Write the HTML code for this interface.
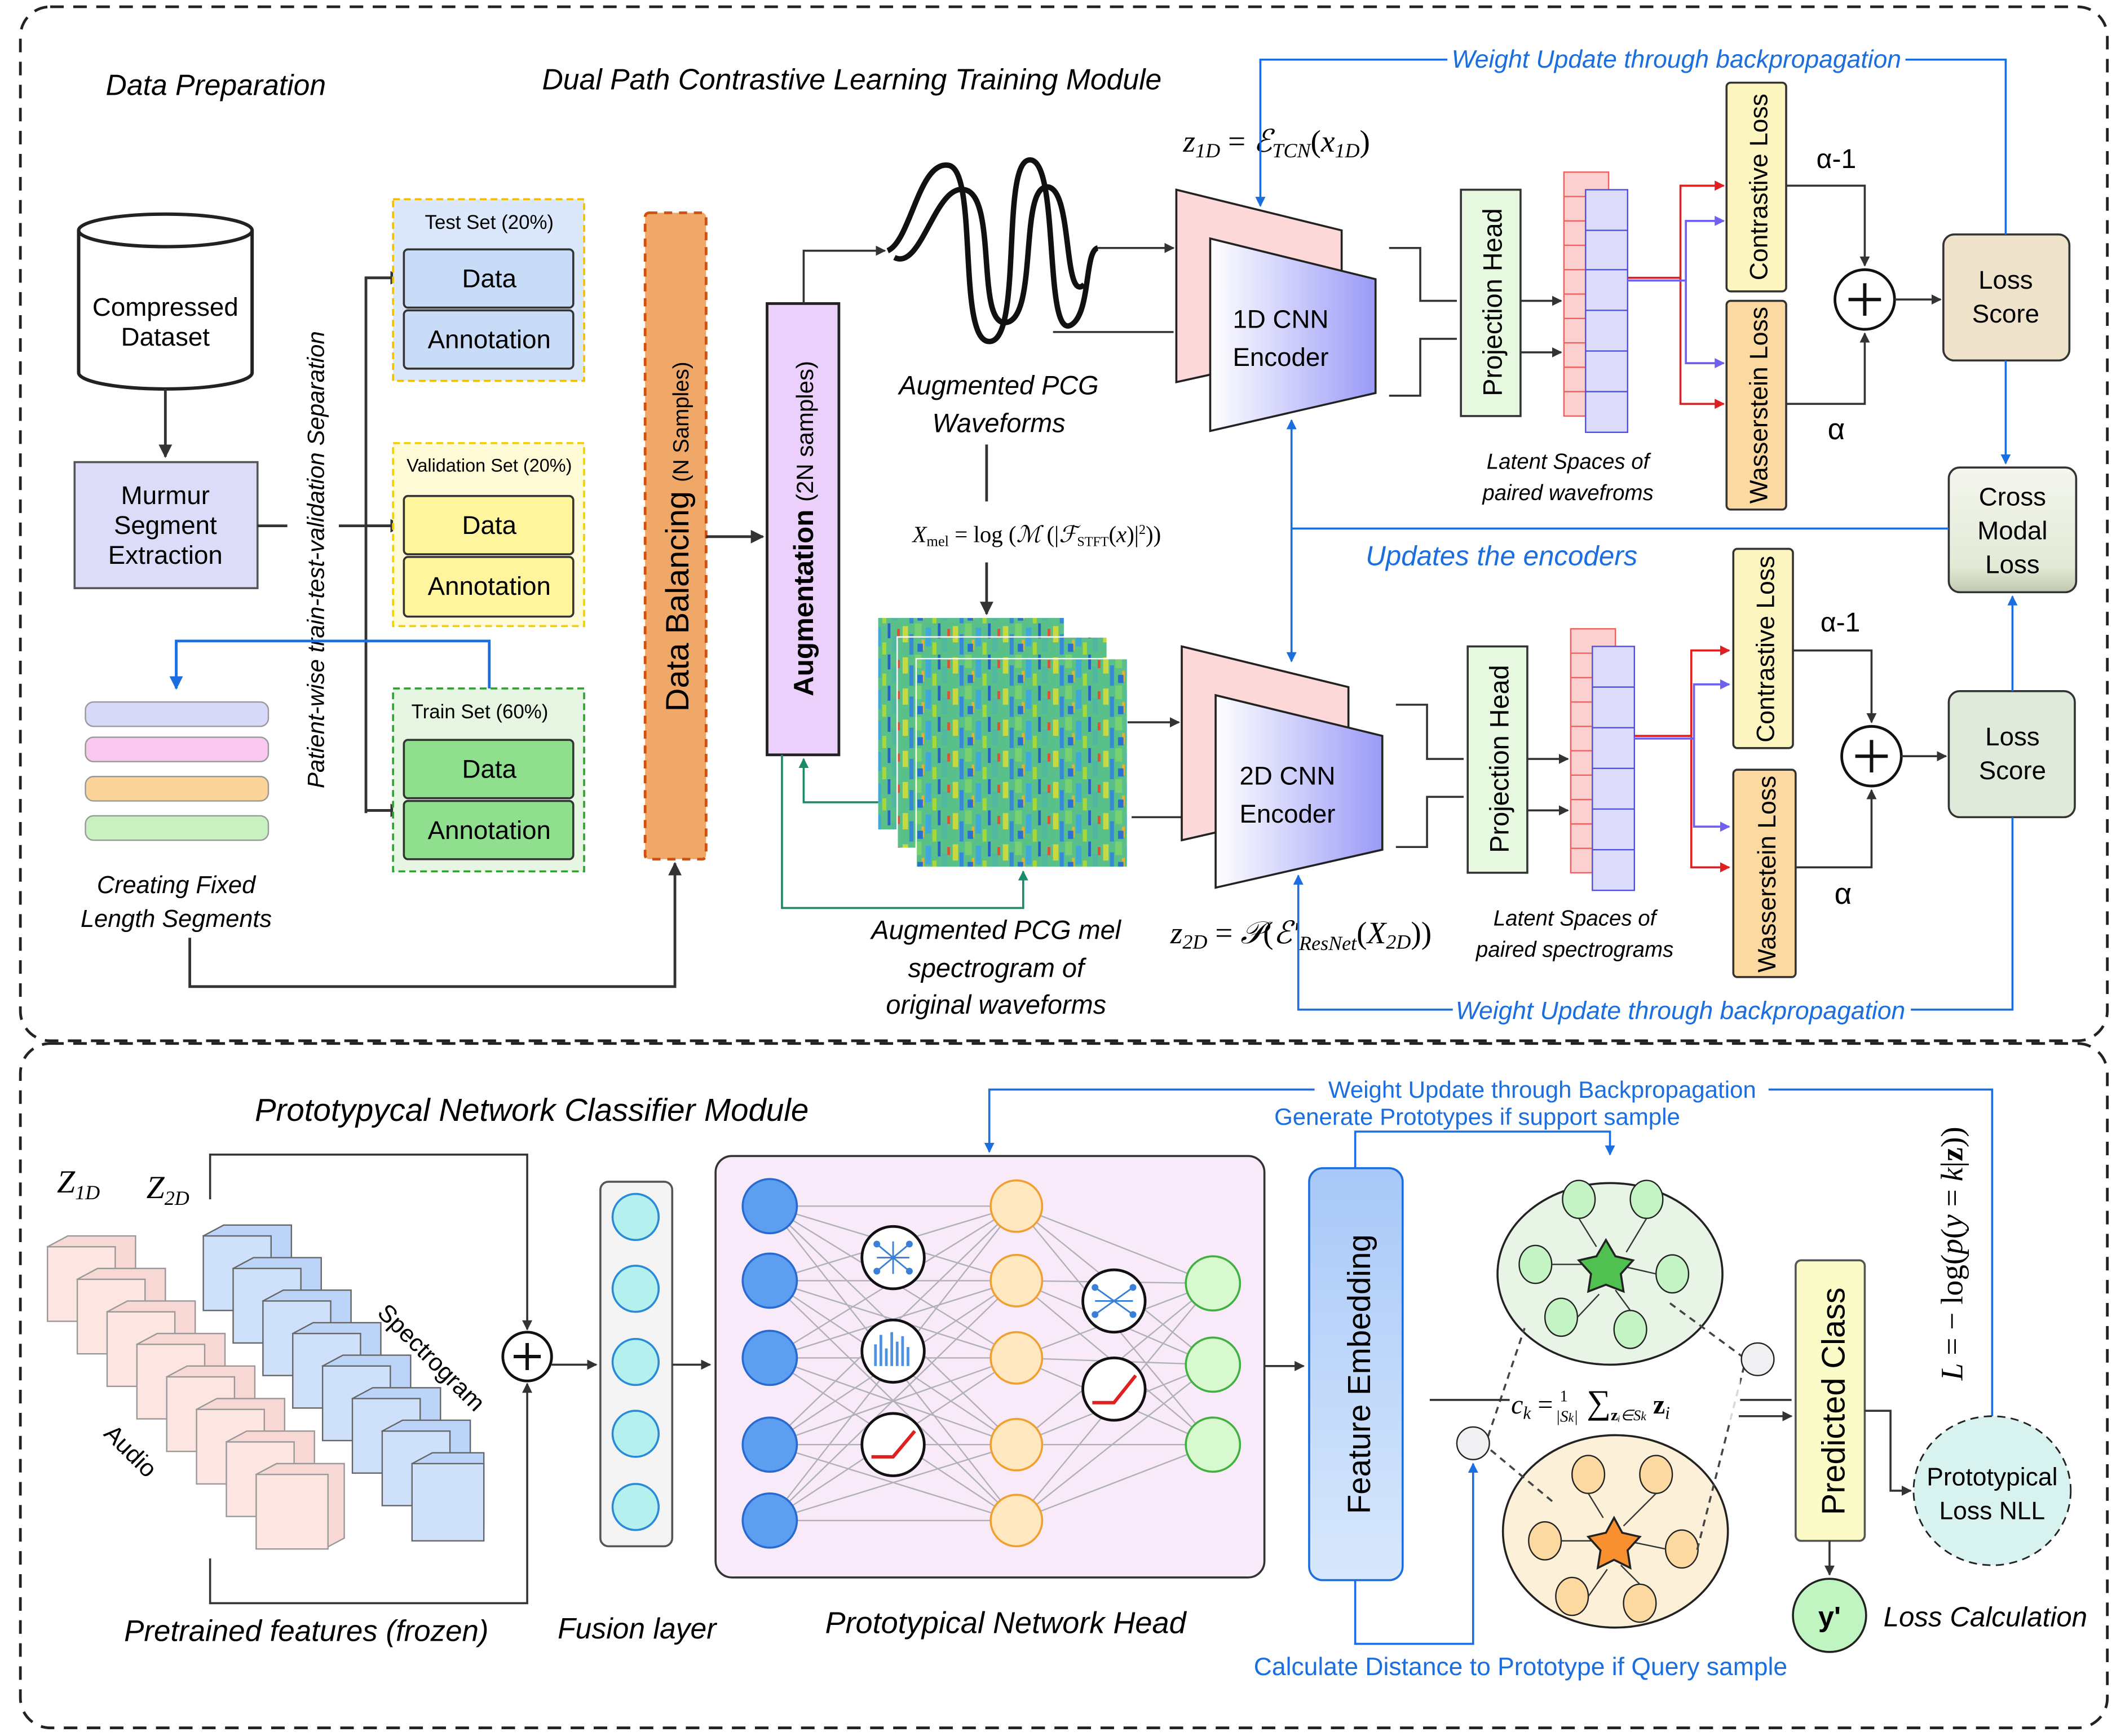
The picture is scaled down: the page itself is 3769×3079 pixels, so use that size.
<!DOCTYPE html>
<html><head><meta charset="utf-8"><style>
html,body{margin:0;padding:0;background:#fff}
svg{display:block}
text{font-family:"Liberation Sans",sans-serif}
.it{font-style:italic}
.sf{font-family:"Liberation Serif",serif;font-style:italic}
.bl{fill:#1a6ee0}
</style></head><body>
<svg width="3769" height="3079" viewBox="0 0 1568 1281" xmlns="http://www.w3.org/2000/svg">
<defs>
<marker id="a" viewBox="0 0 10 10" refX="9" refY="5" markerWidth="5" markerHeight="5" orient="auto"><path d="M0,0L10,5L0,10z" fill="#333"/></marker>
<marker id="ab" viewBox="0 0 10 10" refX="9" refY="5" markerWidth="5" markerHeight="5" orient="auto"><path d="M0,0L10,5L0,10z" fill="#1a6ee0"/></marker>
<marker id="ag" viewBox="0 0 10 10" refX="9" refY="5" markerWidth="5" markerHeight="5" orient="auto"><path d="M0,0L10,5L0,10z" fill="#1a8a6a"/></marker>
<marker id="ar" viewBox="0 0 10 10" refX="9" refY="5" markerWidth="5" markerHeight="5" orient="auto"><path d="M0,0L10,5L0,10z" fill="#e02020"/></marker>
<marker id="ap" viewBox="0 0 10 10" refX="9" refY="5" markerWidth="5" markerHeight="5" orient="auto"><path d="M0,0L10,5L0,10z" fill="#7060f0"/></marker>
<linearGradient id="enc" x1="0" x2="1"><stop offset="0" stop-color="#fff"/><stop offset="1" stop-color="#9a9af8"/></linearGradient>
<linearGradient id="fe" x1="0" y1="0" x2="0" y2="1"><stop offset="0" stop-color="#a8c8f8"/><stop offset="1" stop-color="#d8e8fc"/></linearGradient>
<linearGradient id="cm" x1="0" y1="0" x2="0" y2="1"><stop offset="0" stop-color="#f4f6ee"/><stop offset="0.8" stop-color="#e2ead6"/><stop offset="1" stop-color="#c0c8b0"/></linearGradient>
<pattern id="sp" width="37" height="23" patternUnits="userSpaceOnUse">
<rect width="37" height="23" fill="#58c088"/>
<rect x="0" y="2" width="4" height="12" fill="#c8d840"/><rect x="5" y="8" width="3" height="15" fill="#3888d8"/>
<rect x="9" y="0" width="5" height="10" fill="#78d070"/><rect x="14" y="12" width="2" height="8" fill="#e8b030"/>
<rect x="17" y="3" width="4" height="14" fill="#40a8d8"/><rect x="22" y="14" width="3" height="9" fill="#a8d838"/>
<rect x="26" y="0" width="2" height="11" fill="#2860c8"/><rect x="29" y="9" width="4" height="12" fill="#50b8a0"/>
<rect x="33" y="4" width="2" height="6" fill="#e05030"/><rect x="11" y="15" width="4" height="6" fill="#2a70d0"/>
</pattern>
</defs>

<rect x="15" y="5" width="1540" height="763" rx="22" fill="none" stroke="#222" stroke-width="2" stroke-dasharray="10,7"/>
<rect x="15" y="770" width="1540" height="505" rx="22" fill="none" stroke="#222" stroke-width="2" stroke-dasharray="10,7"/>

<text x="78" y="70" font-size="21.5" class="it">Data Preparation</text>
<text x="400" y="66" font-size="21.5" class="it">Dual Path Contrastive Learning Training Module</text>

<path d="M58,170 L58,275 A64,12 0 0 0 186,275 L186,170" fill="#fff" stroke="#222" stroke-width="2.5"/>
<ellipse cx="122" cy="170" rx="64" ry="12" fill="#fff" stroke="#222" stroke-width="2.5"/>
<text x="122" y="233" font-size="19" text-anchor="middle">Compressed</text>
<text x="122" y="255" font-size="19" text-anchor="middle">Dataset</text>
<line x1="122" y1="287" x2="122" y2="337" stroke="#333" stroke-width="2" marker-end="url(#a)"/>
<rect x="55" y="341" width="135" height="93" fill="#dcdcf8" stroke="#555" stroke-width="1.5"/>
<text x="122" y="372" font-size="19" text-anchor="middle">Murmur</text>
<text x="122" y="394" font-size="19" text-anchor="middle">Segment</text>
<text x="122" y="416" font-size="19" text-anchor="middle">Extraction</text>
<line x1="190" y1="388" x2="212" y2="388" stroke="#333" stroke-width="2"/>
<text transform="translate(239,413) rotate(-90)" font-size="17.5" class="it" text-anchor="middle">Patient-wise train-test-validation Separation</text>
<path d="M250,388 L296,388 M270,600 L270,205 L296,205 M270,598 L296,598" fill="none" stroke="#333" stroke-width="2"/>
<line x1="270" y1="205" x2="297" y2="205" stroke="#333" stroke-width="2" marker-end="url(#a)"/>
<line x1="270" y1="388" x2="297" y2="388" stroke="#333" stroke-width="2" marker-end="url(#a)"/>
<line x1="270" y1="598" x2="297" y2="598" stroke="#333" stroke-width="2" marker-end="url(#a)"/>

<rect x="290" y="147" width="141" height="134" fill="#dbe8fb" stroke="#f0c000" stroke-width="1.5" stroke-dasharray="5,3"/>
<text x="361" y="169" font-size="14.5" text-anchor="middle">Test Set (20%)</text>
<rect x="298" y="184" width="125" height="43" rx="3" fill="#c8dcf8" stroke="#333" stroke-width="1.5"/>
<text x="361" y="212" font-size="19" text-anchor="middle">Data</text>
<rect x="298" y="229" width="125" height="43" rx="3" fill="#c8dcf8" stroke="#333" stroke-width="1.5"/>
<text x="361" y="257" font-size="19" text-anchor="middle">Annotation</text>

<rect x="290" y="327" width="141" height="135" fill="#fffbd6" stroke="#f0d000" stroke-width="1.5" stroke-dasharray="5,3"/>
<text x="361" y="348" font-size="13.5" text-anchor="middle">Validation Set (20%)</text>
<rect x="298" y="366" width="125" height="43" rx="3" fill="#fff59d" stroke="#333" stroke-width="1.5"/>
<text x="361" y="394" font-size="19" text-anchor="middle">Data</text>
<rect x="298" y="411" width="125" height="44" rx="3" fill="#fff59d" stroke="#333" stroke-width="1.5"/>
<text x="361" y="439" font-size="19" text-anchor="middle">Annotation</text>

<rect x="290" y="508" width="141" height="135" fill="#e6f6e3" stroke="#30a030" stroke-width="1.5" stroke-dasharray="5,3"/>
<text x="354" y="530" font-size="14.5" text-anchor="middle">Train Set (60%)</text>
<rect x="298" y="546" width="125" height="43" rx="3" fill="#8fdf8f" stroke="#333" stroke-width="1.5"/>
<text x="361" y="574" font-size="19" text-anchor="middle">Data</text>
<rect x="298" y="591" width="125" height="43" rx="3" fill="#8fdf8f" stroke="#333" stroke-width="1.5"/>
<text x="361" y="619" font-size="19" text-anchor="middle">Annotation</text>

<path d="M361,508 L361,473 L130,473 L130,508" fill="none" stroke="#1a6ee0" stroke-width="2" marker-end="url(#ab)"/>
<rect x="63" y="518" width="135" height="18" rx="6" fill="#d8d8f8" stroke="#999"/>
<rect x="63" y="544" width="135" height="18" rx="6" fill="#f8c8f0" stroke="#999"/>
<rect x="63" y="573" width="135" height="18" rx="6" fill="#fbd49a" stroke="#999"/>
<rect x="63" y="602" width="135" height="18" rx="6" fill="#c8f0c0" stroke="#999"/>
<text x="130" y="659" font-size="18" class="it" text-anchor="middle">Creating Fixed</text>
<text x="130" y="684" font-size="18" class="it" text-anchor="middle">Length Segments</text>
<path d="M140,692 L140,728 L498,728 L498,637" fill="none" stroke="#333" stroke-width="2" marker-end="url(#a)"/>

<rect x="476" y="157" width="45" height="477" rx="3" fill="#f0a868" stroke="#d05010" stroke-width="2" stroke-dasharray="6,5"/>
<text transform="translate(508,396) rotate(-90)" font-size="24" text-anchor="middle">Data Balancing <tspan font-size="16">(N Samples)</tspan></text>
<line x1="521" y1="396" x2="563" y2="396" stroke="#333" stroke-width="2" marker-end="url(#a)"/>
<rect x="566" y="224" width="53" height="333" fill="#ead0fb" stroke="#222" stroke-width="2"/>
<text transform="translate(600,390) rotate(-90)" font-size="20.5" font-weight="bold" text-anchor="middle">Augmentation <tspan font-weight="normal" font-size="17.5">(2N samples)</tspan></text>
<path d="M593,224 L593,185 L653,185" fill="none" stroke="#333" stroke-width="1.5" marker-end="url(#a)"/>

<path d="M655,185 C672,178 678,118 700,122 C722,126 706,252 730,252 C755,252 738,118 760,118 C782,118 770,250 790,240 C805,232 800,185 810,183" fill="none" stroke="#111" stroke-width="4"/>
<path d="M660,190 C680,200 690,135 712,140 C736,145 720,240 742,238 C766,236 752,140 772,138 C792,136 784,225 800,210" fill="none" stroke="#111" stroke-width="4"/>
<line x1="810" y1="183" x2="866" y2="183" stroke="#333" stroke-width="1.5" marker-end="url(#a)"/>
<line x1="777" y1="245" x2="866" y2="245" stroke="#333" stroke-width="1.5"/>
<text x="737" y="291" font-size="19.5" class="it" text-anchor="middle">Augmented PCG</text>
<text x="737" y="319" font-size="19.5" class="it" text-anchor="middle">Waveforms</text>
<line x1="728" y1="328" x2="728" y2="370" stroke="#333" stroke-width="2"/>
<text x="765" y="400" font-size="17" class="sf" text-anchor="middle">X<tspan font-size="11" font-style="normal" dy="3">mel</tspan><tspan dy="-3" font-style="normal"> = log (</tspan>ℳ<tspan font-style="normal"> (|</tspan>ℱ<tspan font-size="10" font-style="normal" dy="3">STFT</tspan><tspan dy="-3" font-style="normal">(</tspan>x<tspan font-style="normal">)|</tspan><tspan font-size="10" dy="-6" font-style="normal">2</tspan><tspan dy="6" font-style="normal">))</tspan></text>
<line x1="728" y1="415" x2="728" y2="453" stroke="#333" stroke-width="2" marker-end="url(#a)"/>

<rect x="648" y="456" width="137" height="156" fill="url(#sp)"/>
<rect x="662" y="470" width="155" height="156" fill="url(#sp)" stroke="#fff"/>
<rect x="676" y="486" width="156" height="154" fill="url(#sp)" stroke="#fff"/>
<path d="M648,592 L593,592 L593,560" fill="none" stroke="#1a8a6a" stroke-width="1.5" marker-end="url(#ag)"/>
<path d="M577,557 L577,670 L755,670 L755,643" fill="none" stroke="#1a8a6a" stroke-width="1.5" marker-end="url(#ag)"/>
<line x1="832" y1="533" x2="870" y2="533" stroke="#333" stroke-width="1.5" marker-end="url(#a)"/>
<line x1="835" y1="603" x2="895" y2="603" stroke="#333" stroke-width="1.5"/>
<text x="735" y="693" font-size="19.5" class="it" text-anchor="middle">Augmented PCG mel</text>
<text x="735" y="721" font-size="19.5" class="it" text-anchor="middle">spectrogram of</text>
<text x="735" y="748" font-size="19.5" class="it" text-anchor="middle">original waveforms</text>

<polygon points="868,140 990,170 990,255 868,282" fill="#fdd8d8" stroke="#222" stroke-width="1.5"/>
<polygon points="893,176 1015,206 1015,290 893,318" fill="url(#enc)" stroke="#222" stroke-width="1.5"/>
<text x="945" y="242" font-size="19" text-anchor="middle">1D CNN</text>
<text x="945" y="270" font-size="19" text-anchor="middle">Encoder</text>
<polygon points="872,477 995,507 995,592 872,620" fill="#fdd8d8" stroke="#222" stroke-width="1.5"/>
<polygon points="897,513 1020,543 1020,627 897,655" fill="url(#enc)" stroke="#222" stroke-width="1.5"/>
<text x="950" y="579" font-size="19" text-anchor="middle">2D CNN</text>
<text x="950" y="607" font-size="19" text-anchor="middle">Encoder</text>
<text x="942" y="112" font-size="23" class="sf" text-anchor="middle">z<tspan font-size="15" dy="4">1D</tspan><tspan dy="-4" font-style="normal"> = </tspan>ℰ<tspan font-size="15" dy="4">TCN</tspan><tspan dy="-4" font-style="normal">(</tspan>x<tspan font-size="15" dy="4">1D</tspan><tspan dy="-4" font-style="normal">)</tspan></text>
<text x="960" y="696" font-size="23" class="sf" text-anchor="middle">z<tspan font-size="15" dy="4">2D</tspan><tspan dy="-4" font-style="normal"> = </tspan>𝒫<tspan font-style="normal">(</tspan>ℰ′<tspan font-size="15" dy="5">ResNet</tspan><tspan dy="-5" font-style="normal">(</tspan>X<tspan font-size="15" dy="4">2D</tspan><tspan dy="-4" font-style="normal">))</tspan></text>

<path d="M1025,183 L1048,183 L1048,222 L1075,222 M1025,292 L1048,292 L1048,250 L1075,250" fill="none" stroke="#333" stroke-width="1.5"/>
<rect x="1078" y="140" width="44" height="167" fill="#e6f8e0" stroke="#333" stroke-width="1.5"/>
<text transform="translate(1108,223) rotate(-90)" font-size="19.5" text-anchor="middle">Projection Head</text>
<line x1="1122" y1="222" x2="1152" y2="222" stroke="#333" stroke-width="1.5" marker-end="url(#a)"/>
<line x1="1122" y1="260" x2="1152" y2="260" stroke="#333" stroke-width="1.5" marker-end="url(#a)"/>
<g stroke="#f06060" stroke-width="1">
<rect x="1154" y="127" width="33" height="180" fill="#fdd0d0"/>
<path d="M1154,145h33M1154,163h33M1154,181h33M1154,199h33M1154,217h33M1154,235h33M1154,253h33M1154,271h33M1154,289h33"/>
</g>
<g stroke="#5050e0" stroke-width="1">
<rect x="1170" y="140" width="31" height="179" fill="#dcdcfa"/>
<path d="M1170,170h31M1170,199h31M1170,229h31M1170,259h31M1170,289h31"/>
</g>
<path d="M1201,205 L1240,205 L1240,137 L1272,137 M1240,205 L1240,298 L1272,298" fill="none" stroke="#e02020" stroke-width="1.5"/>
<line x1="1240" y1="137" x2="1272" y2="137" stroke="#e02020" stroke-width="1.5" marker-end="url(#ar)"/>
<line x1="1240" y1="298" x2="1272" y2="298" stroke="#e02020" stroke-width="1.5" marker-end="url(#ar)"/>
<path d="M1201,207 L1244,207 L1244,163 L1272,163 M1244,207 L1244,268 L1272,268" fill="none" stroke="#7060f0" stroke-width="1.5"/>
<line x1="1244" y1="163" x2="1272" y2="163" stroke="#7060f0" stroke-width="1.5" marker-end="url(#ap)"/>
<line x1="1244" y1="268" x2="1272" y2="268" stroke="#7060f0" stroke-width="1.5" marker-end="url(#ap)"/>
<rect x="1274" y="61" width="44" height="154" rx="3" fill="#fdf5c0" stroke="#333" stroke-width="1.5"/>
<text transform="translate(1304,138) rotate(-90)" font-size="18.5" text-anchor="middle">Contrastive Loss</text>
<rect x="1274" y="222" width="44" height="154" rx="3" fill="#fcd9a0" stroke="#333" stroke-width="1.5"/>
<text transform="translate(1304,299) rotate(-90)" font-size="18.5" text-anchor="middle">Wasserstein Loss</text>
<text x="1355" y="124" font-size="20" text-anchor="middle">α-1</text>
<text x="1355" y="324" font-size="22" text-anchor="middle">α</text>
<path d="M1318,137 L1376,137 L1376,196" fill="none" stroke="#333" stroke-width="1.5" marker-end="url(#a)"/>
<path d="M1318,298 L1376,298 L1376,246" fill="none" stroke="#333" stroke-width="1.5" marker-end="url(#a)"/>
<circle cx="1376" cy="221" r="22" fill="#fff" stroke="#111" stroke-width="2"/>
<path d="M1364,221h24M1376,209v24" stroke="#111" stroke-width="2.5"/>
<line x1="1398" y1="221" x2="1432" y2="221" stroke="#333" stroke-width="1.5" marker-end="url(#a)"/>
<rect x="1434" y="173" width="93" height="93" rx="8" fill="#efe3cc" stroke="#333" stroke-width="1.5"/>
<text x="1480" y="213" font-size="19" text-anchor="middle">Loss</text>
<text x="1480" y="238" font-size="19" text-anchor="middle">Score</text>
<line x1="1480" y1="266" x2="1480" y2="342" stroke="#1a6ee0" stroke-width="1.5" marker-end="url(#ab)"/>
<rect x="1438" y="345" width="94" height="92" rx="8" fill="url(#cm)" stroke="#333" stroke-width="1.5"/>
<text x="1485" y="373" font-size="19" text-anchor="middle">Cross</text>
<text x="1485" y="398" font-size="19" text-anchor="middle">Modal</text>
<text x="1485" y="423" font-size="19" text-anchor="middle">Loss</text>
<path d="M1480,173 L1480,44 L930,44 L930,152" fill="none" stroke="#1a6ee0" stroke-width="1.5" marker-end="url(#ab)"/>
<rect x="1068" y="35" width="338" height="18" fill="#fff"/>
<text x="1237" y="50" font-size="18.5" class="it bl" text-anchor="middle">Weight Update through backpropagation</text>
<path d="M1438,390 L953,390 L953,310" fill="none" stroke="#1a6ee0" stroke-width="1.5" marker-end="url(#ab)"/>
<line x1="953" y1="390" x2="953" y2="488" stroke="#1a6ee0" stroke-width="1.5" marker-end="url(#ab)"/>
<text x="1108" y="417" font-size="20.5" class="it bl" text-anchor="middle">Updates the encoders</text>
<text x="1157" y="346" font-size="16" class="it" text-anchor="middle">Latent Spaces of</text>
<text x="1157" y="369" font-size="16" class="it" text-anchor="middle">paired wavefroms</text>

<path d="M1030,520 L1053,520 L1053,560 L1080,560 M1030,625 L1053,625 L1053,588 L1080,588" fill="none" stroke="#333" stroke-width="1.5"/>
<rect x="1083" y="477" width="44" height="167" fill="#e6f8e0" stroke="#333" stroke-width="1.5"/>
<text transform="translate(1113,560) rotate(-90)" font-size="19.5" text-anchor="middle">Projection Head</text>
<line x1="1127" y1="560" x2="1157" y2="560" stroke="#333" stroke-width="1.5" marker-end="url(#a)"/>
<line x1="1127" y1="598" x2="1157" y2="598" stroke="#333" stroke-width="1.5" marker-end="url(#a)"/>
<g stroke="#f06060" stroke-width="1">
<rect x="1159" y="464" width="33" height="180" fill="#fdd0d0"/>
<path d="M1159,482h33M1159,500h33M1159,518h33M1159,536h33M1159,554h33M1159,572h33M1159,590h33M1159,608h33M1159,626h33"/>
</g>
<g stroke="#5050e0" stroke-width="1">
<rect x="1175" y="477" width="31" height="180" fill="#dcdcfa"/>
<path d="M1175,507h31M1175,537h31M1175,567h31M1175,597h31M1175,627h31"/>
</g>
<path d="M1206,543 L1248,543 L1248,480 L1276,480 M1248,543 L1248,640 L1276,640" fill="none" stroke="#e02020" stroke-width="1.5"/>
<line x1="1248" y1="480" x2="1276" y2="480" stroke="#e02020" stroke-width="1.5" marker-end="url(#ar)"/>
<line x1="1248" y1="640" x2="1276" y2="640" stroke="#e02020" stroke-width="1.5" marker-end="url(#ar)"/>
<path d="M1206,545 L1250,545 L1250,505 L1276,505 M1250,545 L1250,610 L1276,610" fill="none" stroke="#7060f0" stroke-width="1.5"/>
<line x1="1250" y1="505" x2="1276" y2="505" stroke="#7060f0" stroke-width="1.5" marker-end="url(#ap)"/>
<line x1="1250" y1="610" x2="1276" y2="610" stroke="#7060f0" stroke-width="1.5" marker-end="url(#ap)"/>
<rect x="1279" y="405" width="44" height="147" rx="3" fill="#fdf5c0" stroke="#333" stroke-width="1.5"/>
<text transform="translate(1309,479) rotate(-90)" font-size="18.5" text-anchor="middle">Contrastive Loss</text>
<rect x="1279" y="568" width="46" height="153" rx="3" fill="#fcd9a0" stroke="#333" stroke-width="1.5"/>
<text transform="translate(1310,645) rotate(-90)" font-size="18.5" text-anchor="middle">Wasserstein Loss</text>
<text x="1358" y="466" font-size="20" text-anchor="middle">α-1</text>
<text x="1360" y="667" font-size="22" text-anchor="middle">α</text>
<path d="M1323,480 L1381,480 L1381,533" fill="none" stroke="#333" stroke-width="1.5" marker-end="url(#a)"/>
<path d="M1325,640 L1381,640 L1381,583" fill="none" stroke="#333" stroke-width="1.5" marker-end="url(#a)"/>
<circle cx="1381" cy="558" r="22" fill="#fff" stroke="#111" stroke-width="2"/>
<path d="M1369,558h24M1381,546v24" stroke="#111" stroke-width="2.5"/>
<line x1="1403" y1="558" x2="1436" y2="558" stroke="#333" stroke-width="1.5" marker-end="url(#a)"/>
<rect x="1438" y="510" width="93" height="93" rx="8" fill="#e0eadb" stroke="#333" stroke-width="1.5"/>
<text x="1485" y="550" font-size="19" text-anchor="middle">Loss</text>
<text x="1485" y="575" font-size="19" text-anchor="middle">Score</text>
<line x1="1485" y1="510" x2="1485" y2="440" stroke="#1a6ee0" stroke-width="1.5" marker-end="url(#ab)"/>
<path d="M1485,603 L1485,745 L958,745 L958,646" fill="none" stroke="#1a6ee0" stroke-width="1.5" marker-end="url(#ab)"/>
<rect x="1072" y="737" width="338" height="18" fill="#fff"/>
<text x="1240" y="752" font-size="18.5" class="it bl" text-anchor="middle">Weight Update through backpropagation</text>
<text x="1162" y="683" font-size="16" class="it" text-anchor="middle">Latent Spaces of</text>
<text x="1162" y="706" font-size="16" class="it" text-anchor="middle">paired spectrograms</text>

<!-- bottom -->
<text x="188" y="827" font-size="23.5" class="it">Prototypycal Network Classifier Module</text>
<text x="42" y="880" font-size="24" class="sf">Z<tspan font-size="15" dy="5">1D</tspan></text>
<text x="108" y="884" font-size="24" class="sf">Z<tspan font-size="15" dy="5">2D</tspan></text>
<path d="M155,885 L155,852 L389,852 L389,981" fill="none" stroke="#333" stroke-width="1.5" marker-end="url(#a)"/>
<path d="M155,1150 L155,1183 L389,1183 L389,1021" fill="none" stroke="#333" stroke-width="1.5" marker-end="url(#a)"/>
<g stroke="#999" stroke-width="1" fill="#fde6e2">
<path d="M35,920 l15,-8 h50 v55 l-15,8z" fill="#f8d8d4"/><rect x="35" y="920" width="50" height="55"/>
<path d="M57,944 l15,-8 h50 v55 l-15,8z" fill="#f8d8d4"/><rect x="57" y="944" width="50" height="55"/>
<path d="M79,968 l15,-8 h50 v55 l-15,8z" fill="#f8d8d4"/><rect x="79" y="968" width="50" height="55"/>
<path d="M101,992 l15,-8 h50 v55 l-15,8z" fill="#f8d8d4"/><rect x="101" y="992" width="50" height="55"/>
<path d="M123,1016 l15,-8 h50 v55 l-15,8z" fill="#f8d8d4"/><rect x="123" y="1016" width="50" height="55"/>
<path d="M145,1040 l15,-8 h50 v55 l-15,8z" fill="#f8d8d4"/><rect x="145" y="1040" width="50" height="55"/>
<path d="M167,1064 l15,-8 h50 v55 l-15,8z" fill="#f8d8d4"/><rect x="167" y="1064" width="50" height="55"/>
<path d="M189,1088 l15,-8 h50 v55 l-15,8z" fill="#f8d8d4"/><rect x="189" y="1088" width="53" height="55"/>
</g>
<g stroke="#666" stroke-width="1" fill="#cfe0fb">
<path d="M150,912 l15,-8 h50 v55 l-15,8z" fill="#bcd4f8"/><rect x="150" y="912" width="50" height="55"/>
<path d="M172,936 l15,-8 h50 v55 l-15,8z" fill="#bcd4f8"/><rect x="172" y="936" width="50" height="55"/>
<path d="M194,960 l15,-8 h50 v55 l-15,8z" fill="#bcd4f8"/><rect x="194" y="960" width="50" height="55"/>
<path d="M216,984 l15,-8 h50 v55 l-15,8z" fill="#bcd4f8"/><rect x="216" y="984" width="50" height="55"/>
<path d="M238,1008 l15,-8 h50 v55 l-15,8z" fill="#bcd4f8"/><rect x="238" y="1008" width="50" height="55"/>
<path d="M260,1032 l15,-8 h50 v55 l-15,8z" fill="#bcd4f8"/><rect x="260" y="1032" width="50" height="55"/>
<path d="M282,1056 l15,-8 h50 v55 l-15,8z" fill="#bcd4f8"/><rect x="282" y="1056" width="50" height="55"/>
<path d="M304,1080 l15,-8 h38 v55 l-15,8z" fill="#bcd4f8"/><rect x="304" y="1080" width="53" height="57"/>
</g>
<text transform="translate(92,1075) rotate(45)" font-size="18" text-anchor="middle">Audio</text>
<text transform="translate(314,1006) rotate(45)" font-size="18" text-anchor="middle">Spectrogram</text>
<text x="226" y="1211" font-size="22" class="it" text-anchor="middle">Pretrained features (frozen)</text>
<circle cx="389" cy="1001" r="18" fill="#fff" stroke="#111" stroke-width="2"/>
<path d="M379,1001h20M389,991v20" stroke="#111" stroke-width="2.5"/>
<line x1="407" y1="1007" x2="440" y2="1007" stroke="#333" stroke-width="1.5" marker-end="url(#a)"/>
<rect x="443" y="872" width="53" height="269" rx="6" fill="#f4f4f4" stroke="#555" stroke-width="1.5"/>
<g fill="#b3f0ee" stroke="#2a8ad8" stroke-width="1.5">
<circle cx="469" cy="898" r="17"/><circle cx="469" cy="951" r="17"/><circle cx="469" cy="1005" r="17"/><circle cx="469" cy="1058" r="17"/><circle cx="469" cy="1112" r="17"/>
</g>
<text x="470" y="1209" font-size="21.5" class="it" text-anchor="middle">Fusion layer</text>
<line x1="496" y1="1007" x2="524" y2="1007" stroke="#333" stroke-width="1.5" marker-end="url(#a)"/>
<rect x="528" y="853" width="405" height="311" rx="12" fill="#f8eaf8" stroke="#333" stroke-width="1.5"/>
<g stroke="#b0b0b8" stroke-width="1">
<path d="M568,890L750,890M568,890L750,945M568,890L750,1002M568,890L750,1066M568,890L750,1122
M568,945L750,890M568,945L750,945M568,945L750,1002M568,945L750,1066M568,945L750,1122
M568,1002L750,890M568,1002L750,945M568,1002L750,1002M568,1002L750,1066M568,1002L750,1122
M568,1066L750,890M568,1066L750,945M568,1066L750,1002M568,1066L750,1066M568,1066L750,1122
M568,1122L750,890M568,1122L750,945M568,1122L750,1002M568,1122L750,1066M568,1122L750,1122
M750,890L895,947M750,890L895,1007M750,890L895,1066
M750,945L895,947M750,945L895,1007M750,945L895,1066
M750,1002L895,947M750,1002L895,1007M750,1002L895,1066
M750,1066L895,947M750,1066L895,1007M750,1066L895,1066
M750,1122L895,947M750,1122L895,1007M750,1122L895,1066"/>
</g>
<g fill="#5c9ef0" stroke="#2a6ad0" stroke-width="1.5">
<circle cx="568" cy="890" r="20"/><circle cx="568" cy="945" r="20"/><circle cx="568" cy="1002" r="20"/><circle cx="568" cy="1066" r="20"/><circle cx="568" cy="1122" r="20"/>
</g>
<g fill="#ffe8c0" stroke="#f0a030" stroke-width="1.5">
<circle cx="750" cy="890" r="19"/><circle cx="750" cy="945" r="19"/><circle cx="750" cy="1002" r="19"/><circle cx="750" cy="1066" r="19"/><circle cx="750" cy="1122" r="19"/>
</g>
<g fill="#d8f8d0" stroke="#40b040" stroke-width="1.5">
<circle cx="895" cy="947" r="20"/><circle cx="895" cy="1007" r="20"/><circle cx="895" cy="1066" r="20"/>
</g>
<g fill="#fff" stroke="#111" stroke-width="2">
<circle cx="659" cy="928" r="23"/><circle cx="659" cy="997" r="23"/><circle cx="659" cy="1066" r="23"/><circle cx="822" cy="960" r="23"/><circle cx="822" cy="1025" r="23"/>
</g>
<g stroke="#3a80d8" stroke-width="1.2"><path d="M647,918L671,938M647,938L671,918M647,928L671,928M659,916L659,940M808,950L836,970M808,970L836,950M808,960L836,960"/></g>
<g fill="#3a80d8"><circle cx="647" cy="918" r="2.5"/><circle cx="671" cy="938" r="2.5"/><circle cx="647" cy="938" r="2.5"/><circle cx="671" cy="918" r="2.5"/><circle cx="808" cy="950" r="2.5"/><circle cx="836" cy="970" r="2.5"/><circle cx="808" cy="970" r="2.5"/><circle cx="836" cy="950" r="2.5"/></g>
<g fill="#5090e0"><rect x="645" y="992" width="2" height="16"/><rect x="649" y="985" width="2" height="23"/><rect x="653" y="995" width="2" height="13"/><rect x="657" y="983" width="2" height="25"/><rect x="661" y="990" width="2" height="18"/><rect x="665" y="986" width="2" height="22"/><rect x="669" y="994" width="2" height="14"/></g>
<path d="M643,1075 L659,1075 L675,1056" fill="none" stroke="#e02020" stroke-width="2.5"/>
<path d="M806,1035 L822,1035 L838,1015" fill="none" stroke="#e02020" stroke-width="2.5"/>
<text x="742" y="1205" font-size="22.5" class="it" text-anchor="middle">Prototypical Network Head</text>
<line x1="933" y1="1008" x2="962" y2="1008" stroke="#333" stroke-width="1.5" marker-end="url(#a)"/>
<rect x="966" y="862" width="69" height="304" rx="10" fill="url(#fe)" stroke="#1a6ee0" stroke-width="1.5"/>
<text transform="translate(1011,1014) rotate(-90)" font-size="23.5" text-anchor="middle">Feature Embedding</text>

<path d="M1000,862 L1000,835 L1188,835 L1188,852" fill="none" stroke="#1a6ee0" stroke-width="1.5" marker-end="url(#ab)"/>
<path d="M1470,1048 L1470,804 L730,804 L730,850" fill="none" stroke="#1a6ee0" stroke-width="1.5" marker-end="url(#ab)"/>
<rect x="970" y="795" width="335" height="17" fill="#fff"/>
<text x="1138" y="810" font-size="17.5" class="bl" text-anchor="middle">Weight Update through Backpropagation</text>
<rect x="930" y="815" width="320" height="18" fill="#fff"/>
<text x="1090" y="830" font-size="17.5" class="bl" text-anchor="middle">Generate Prototypes if support sample</text>
<path d="M1000,1166 L1000,1213 L1087,1213 L1087,1080" fill="none" stroke="#1a6ee0" stroke-width="1.5" marker-end="url(#ab)"/>
<text x="1122" y="1236" font-size="18.5" class="bl" text-anchor="middle">Calculate Distance to Prototype if Query sample</text>

<ellipse cx="1188" cy="940" rx="83" ry="67" fill="#e8f4e6" stroke="#222" stroke-width="1.5"/>
<g fill="#c4f4c4" stroke="#222" stroke-width="1">
<ellipse cx="1165" cy="885" rx="12" ry="14"/><ellipse cx="1215" cy="885" rx="12" ry="14"/><ellipse cx="1133" cy="933" rx="12" ry="14"/><ellipse cx="1234" cy="940" rx="12" ry="14"/><ellipse cx="1152" cy="972" rx="12" ry="14"/><ellipse cx="1203" cy="981" rx="12" ry="14"/>
</g>
<g stroke="#333" fill="none" stroke-width="1">
<path d="M1145,933L1170,933M1222,940L1200,935M1165,899L1178,920M1215,899L1200,924M1164,972L1180,955M1203,967L1192,952"/>
</g>
<polygon points="1185,915 1192,927 1205,930 1196,940 1198,953 1185,948 1172,953 1174,940 1165,930 1178,927" fill="#50c050" stroke="#222" stroke-width="1.5"/>
<ellipse cx="1192" cy="1130" rx="83" ry="71" fill="#fdf0d8" stroke="#222" stroke-width="1.5"/>
<g fill="#fcd9a0" stroke="#222" stroke-width="1">
<ellipse cx="1172" cy="1088" rx="12" ry="14"/><ellipse cx="1222" cy="1088" rx="12" ry="14"/><ellipse cx="1140" cy="1137" rx="12" ry="14"/><ellipse cx="1241" cy="1143" rx="12" ry="14"/><ellipse cx="1160" cy="1178" rx="12" ry="14"/><ellipse cx="1210" cy="1183" rx="12" ry="14"/>
</g>
<g stroke="#333" fill="none" stroke-width="1">
<path d="M1152,1137L1176,1137M1229,1143L1205,1138M1172,1102L1183,1120M1222,1102L1198,1126M1172,1178L1186,1158M1210,1169L1196,1155"/>
</g>
<polygon points="1191,1120 1197,1131 1210,1134 1201,1144 1203,1157 1191,1151 1179,1157 1181,1144 1172,1134 1185,1131" fill="#f89030" stroke="#222" stroke-width="1.5"/>
<g fill="none" stroke="#444" stroke-width="1.5" stroke-dasharray="5,4">
<path d="M1098,1060 L1125,980 M1100,1070 L1148,1110 M1287,1008 L1252,1145 M1287,1002 L1230,960"/>
</g>
<circle cx="1297" cy="1003" r="12" fill="#f0f0f2" stroke="#222"/>
<circle cx="1087" cy="1065" r="12" fill="#f0f0f2" stroke="#222"/>
<line x1="1055" y1="1033" x2="1114" y2="1033" stroke="#333" stroke-width="1.5"/>
<rect x="1114" y="1014" width="170" height="36" fill="#fff" opacity=".8"/>
<text x="1115" y="1043" font-size="20" class="sf">c<tspan font-size="13" dy="4">k</tspan><tspan dy="-4" font-style="normal"> = </tspan><tspan font-size="12" dy="-9" font-style="normal">1</tspan><tspan font-size="12" dy="15" dx="-9">|S<tspan font-size="9">k</tspan>|</tspan><tspan dy="-6" font-style="normal" font-size="25"> ∑</tspan><tspan font-size="12" dy="5" font-weight="bold" font-style="normal">z</tspan><tspan font-size="11" dy="0">ᵢ∈S<tspan font-size="9">k</tspan></tspan><tspan dy="-5" font-weight="bold" font-style="normal"> z</tspan><tspan font-size="13" dy="4">i</tspan></text>
<path d="M1284,1033 L1322,1033" stroke="#333" stroke-width="1.5" fill="none"/>
<line x1="1283" y1="1045" x2="1322" y2="1045" stroke="#333" stroke-width="1.5" marker-end="url(#a)"/>
<rect x="1325" y="930" width="51" height="207" rx="4" fill="#fbfbc8" stroke="#555" stroke-width="1.5"/>
<text transform="translate(1361,1034) rotate(-90)" font-size="24" text-anchor="middle">Predicted Class</text>
<line x1="1350" y1="1137" x2="1350" y2="1162" stroke="#333" stroke-width="1.5" marker-end="url(#a)"/>
<circle cx="1350" cy="1192" r="27" fill="#c0f4c0" stroke="#222" stroke-width="1.5"/>
<text x="1350" y="1200" font-size="21" font-weight="bold" text-anchor="middle">y'</text>
<text x="1465" y="1200" font-size="20.5" class="it" text-anchor="middle">Loss Calculation</text>
<path d="M1376,1041 L1395,1041 L1395,1100 L1410,1100" fill="none" stroke="#333" stroke-width="1.5" marker-end="url(#a)"/>
<ellipse cx="1470" cy="1100" rx="58" ry="55" fill="#d8f3ef" stroke="#222" stroke-width="1.2" stroke-dasharray="6,4"/>
<text x="1470" y="1096" font-size="18.5" text-anchor="middle">Prototypical</text>
<text x="1470" y="1121" font-size="18.5" text-anchor="middle">Loss NLL</text>
<text transform="translate(1448,925) rotate(-90)" font-size="23" class="sf" text-anchor="middle">L<tspan font-style="normal"> = − log(</tspan>p<tspan font-style="normal">(</tspan>y<tspan font-style="normal"> = </tspan>k<tspan font-style="normal">|</tspan><tspan font-weight="bold" font-style="normal">z</tspan><tspan font-style="normal">))</tspan></text>
</svg>
</body></html>
